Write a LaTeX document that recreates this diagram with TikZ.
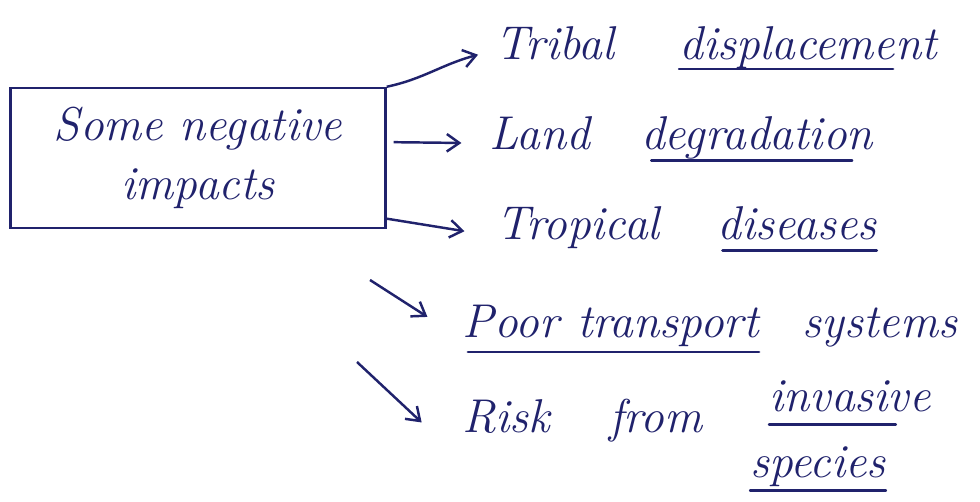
\documentclass[tikz,border=0pt]{standalone}
\usetikzlibrary{arrows.meta}
\definecolor{ink}{RGB}{32,34,108}

\begin{document}
\begin{tikzpicture}[
  x=0.02cm, y=-0.02cm,
  font=\fontsize{27}{34}\selectfont\itshape,
  every node/.style={text=ink},
  word/.style={anchor=base, inner sep=0pt},
  topic/.style={draw=ink, line width=1.4pt, minimum width=7.5cm, minimum height=2.8cm, align=center},
  arr/.style={-{Straight Barb[length=2.5mm,width=3.5mm]}, draw=ink, line width=1.4pt},
  ul/.style={draw=ink, line width=1.4pt, line cap=round}
]
\useasboundingbox (0,0) rectangle (980,502);

\node[topic] (imp) at (198,158) {Some negative\\impacts};

\node[word] (tr)  at (555,60)  {Tribal};
\node[word] (dis) at (808,60)  {displacement};
\node[word] (la)  at (540,150) {Land};
\node[word] (deg) at (757,150) {degradation};
\node[word] (tro) at (578,240) {Tropical};
\node[word] (dse) at (797,240) {diseases};
\node[word] (po)  at (511,338) {Poor};
\node[word] (tra) at (668,338) {transport};
\node[word] (sy)  at (880,338) {systems};
\node[word] (ri)  at (506,433) {Risk};
\node[word] (fr)  at (656,433) {from};
\node[word] (inv) at (850,412) {invasive};
\node[word] (spe) at (818,478) {species};

\coordinate (s4) at (370,280);
\coordinate (s5) at (357,362);

% arrows
\draw[arr] (imp.north east) to[out=12, in=195] ([xshift=-10pt,yshift=3pt]tr.base west);
\draw[arr] ([xshift=4pt,yshift=9pt]imp.east) -- ([xshift=-16pt,yshift=4pt]la.base west);
\draw[arr] ([yshift=6pt]imp.south east) -- ([xshift=-18pt,yshift=5pt]tro.base west);
\draw[arr] (s4) -- ([xshift=-20pt,yshift=12pt]po.base west);
\draw[arr] (s5) -- ([xshift=-23pt,yshift=6pt]ri.base west);

% underlines
\draw[ul] ([yshift=-5pt]dis.base west) -- ([xshift=-25pt,yshift=-5pt]dis.base east);
\draw[ul] ([xshift=6pt,yshift=-6pt]deg.base west) -- ([xshift=-12pt,yshift=-6pt]deg.base east);
\draw[ul] ([xshift=3pt,yshift=-6pt]dse.base west) -- ([yshift=-6pt]dse.base east);
\draw[ul] ([xshift=3pt,yshift=-8pt]po.base west) -- ([yshift=-8pt]tra.base east);
\draw[ul] ([yshift=-7pt]inv.base west) -- ([xshift=-20pt,yshift=-7pt]inv.base east);
\draw[ul] ([yshift=-7pt]spe.base west) -- ([yshift=-7pt]spe.base east);
\end{tikzpicture}
\end{document}
